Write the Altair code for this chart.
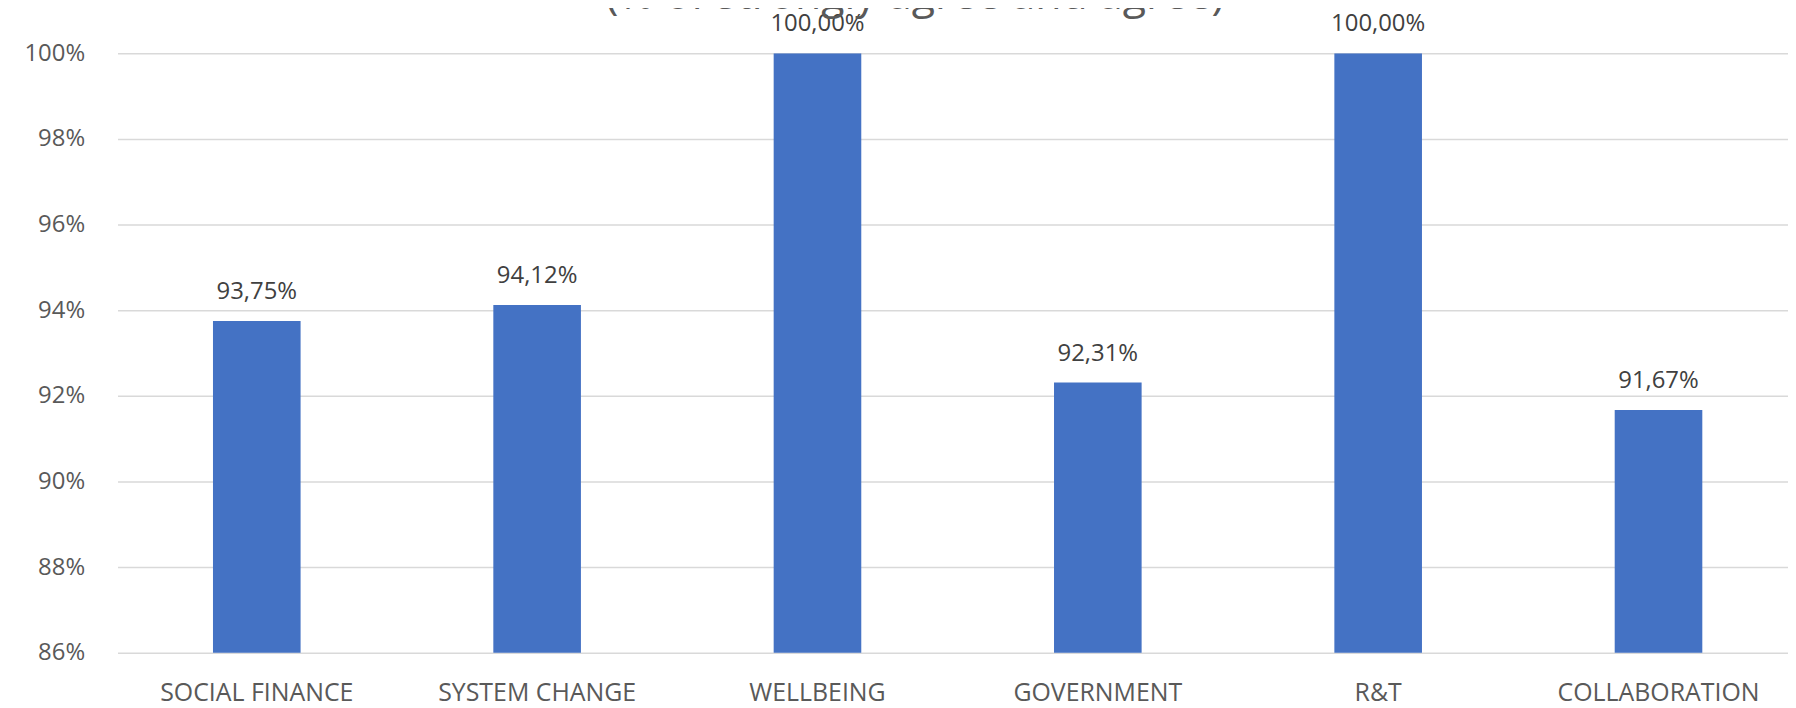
import altair as alt
import pandas as pd

categories = ["SOCIAL FINANCE", "SYSTEM CHANGE", "WELLBEING", "GOVERNMENT", "R&T", "COLLABORATION"]
values = [0.9375, 0.9412, 1.0, 0.9231, 1.0, 0.9167]
y_ticks = [0.86, 0.88, 0.90, 0.92, 0.94, 0.96, 0.98, 1.00]
title_text = "(% of strongly agree and agree)"

df = pd.DataFrame({"category": categories, "value": values})
FONT = "Open Sans"

x_enc = alt.X(
    "category:N",
    sort=categories,
    scale=alt.Scale(paddingInner=0.6875, paddingOuter=0.3231, align=0.527),
    axis=alt.Axis(
        title=None, labelAngle=0, ticks=False, domain=False,
        labelFont=FONT, labelFontSize=25, labelColor="#595959",
        labelPadding=28, labelLimit=0,
    ),
)
y_enc = alt.Y(
    "value:Q",
    scale=alt.Scale(domain=[0.86, 1.0], zero=False, nice=False),
    axis=alt.Axis(
        title=None, values=y_ticks, format=".0%", domain=False, ticks=False,
        grid=True, gridColor="#D9D9D9", gridWidth=1.5,
        labelFont=FONT, labelFontSize=24, labelColor="#595959",
        labelPadding=33,
    ),
)

base = alt.Chart(df).encode(x=x_enc, y=y_enc)

bars = base.mark_bar(color="#4472C4", clip=True)

labels = base.transform_calculate(
    label="replace(format(datum.value * 100, '.2f'), '.', ',') + '%'"
).mark_text(
    baseline="alphabetic", dy=-22, font=FONT, fontSize=24, color="#404040"
).encode(text="label:N")

title = alt.Chart(pd.DataFrame({"t": [title_text]})).mark_text(
    font=FONT, fontSize=43, color="#595959", baseline="alphabetic", align="center"
).encode(text="t:N", x=alt.value(801), y=alt.value(-45))

chart = alt.layer(bars, labels, title).properties(
    width=1678,
    height=602,
    padding={"left": 110, "top": 44, "right": 0, "bottom": 54},
    autosize=alt.AutoSizeParams(type="none"),
    background="white",
).configure_view(stroke=None)

chart.save("out.html", embed_options={"renderer": "svg", "actions": False})
